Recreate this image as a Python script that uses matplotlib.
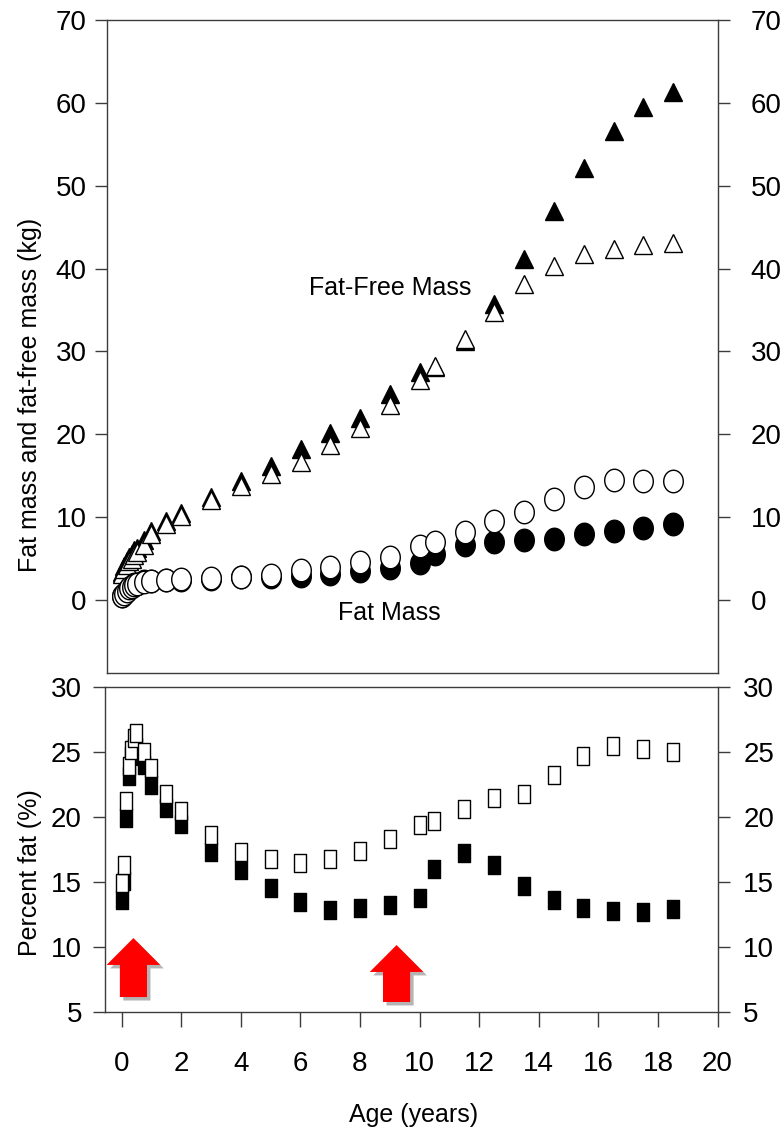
import numpy as np
import matplotlib
matplotlib.use("Agg")
import matplotlib.pyplot as plt
from matplotlib.path import Path
from matplotlib.patches import FancyArrow
import matplotlib.patheffects as pe

plt.rcParams['font.family'] = ['Liberation Sans', 'DejaVu Sans']

# ages (years): monthly to 6 mo, then 9, 12, 18, 24 mo, then yearly
age = [0, 1/12, 2/12, 3/12, 4/12, 5/12, 0.5, 0.75, 1, 1.5, 2,
       3, 4, 5, 6, 7, 8, 9, 10,
       10.5, 11.5, 12.5, 13.5, 14.5, 15.5, 16.5, 17.5, 18.5]

# fat-free mass (kg)
ffm_boys = [3.4, 4.1, 4.7, 5.2, 5.6, 6.0, 6.3, 7.2, 8.3, 9.5, 10.5,
            12.4, 14.4, 16.2, 18.2, 20.2, 22.0, 24.9, 27.5,
            28.1, 31.3, 35.7, 41.2, 46.95, 52.2, 56.6, 59.5, 61.35]
ffm_girls = [3.2, 3.7, 4.2, 4.7, 5.0, 5.4, 5.8, 6.6, 8.0, 9.2, 10.2,
             12.07, 13.8, 15.2, 16.7, 18.7, 20.8, 23.5, 26.55,
             28.3, 31.5, 34.8, 38.1, 40.3, 41.75, 42.4, 42.8, 43.1]

# fat mass (kg)
fm_boys = [0.5, 0.7, 1.1, 1.5, 1.75, 1.9, 2.0, 2.3, 2.3, 2.4, 2.45,
           2.6, 2.75, 2.8, 2.95, 3.1, 3.5, 3.82, 4.42,
           5.55, 6.64, 7.04, 7.24, 7.36, 7.97, 8.33, 8.65, 9.13]
fm_girls = [0.5, 0.7, 1.05, 1.4, 1.6, 1.8, 1.9, 2.15, 2.3, 2.45, 2.6,
            2.7, 2.82, 3.0, 3.62, 4.0, 4.63, 5.23, 6.52,
            7.04, 8.25, 9.53, 10.66, 12.15, 13.7, 14.5, 14.36, 14.36]

# percent body fat
pct_boys = [13.6, 15.1, 19.9, 23.15, 24.7, 25.3, 25.4, 24.0, 22.45, 20.7, 19.45,
            17.3, 15.9, 14.55, 13.45, 12.85, 13.0, 13.2, 13.75,
            16.0, 17.2, 16.3, 14.7, 13.6, 13.0, 12.8, 12.7, 12.9]
pct_girls = [14.9, 16.3, 21.2, 23.9, 25.15, 26.05, 26.5, 25.0, 23.75, 21.8, 20.5,
             18.6, 17.3, 16.75, 16.45, 16.8, 17.4, 18.3, 19.4,
             19.7, 20.6, 21.45, 21.8, 23.2, 24.7, 25.45, 25.2, 25.0]

# red arrows marking the two periods (x, base, tip)
arrow_x = [0.40, 9.23]
arrow_base = [6.15, 5.77]
arrow_tip = [10.69, 10.15]

W, H = 782, 1135
AXC = '#3c3c3c'


def box(l, t, r, b):
    return [l / W, 1 - b / H, (r - l) / W, (b - t) / H]


# tall oval and tall rectangle markers
th = np.linspace(0, 2 * np.pi, 64)
oval = Path(np.column_stack([0.87 * np.cos(th), np.sin(th)]), closed=True)
rect = Path([(-0.37, -0.5), (0.37, -0.5), (0.37, 0.5), (-0.37, 0.5), (-0.37, -0.5)], closed=True)

fig = plt.figure(figsize=(W / 100, H / 100), dpi=100)
ax1 = fig.add_axes(box(107, 20, 718, 673))
ax2 = fig.add_axes(box(105, 687, 717.5, 1012))


def style(ax, ylim, yticks, lpad, rpad):
    ax.set_ylim(*ylim)
    ax.set_yticks(yticks)
    for s in ax.spines.values():
        s.set_color(AXC)
        s.set_linewidth(1.0)
    ax.tick_params(axis='y', direction='out', length=8.6, width=1.0, color=AXC,
                   labelsize=20, pad=lpad, left=True, right=False)
    tw = ax.twinx()
    tw.set_ylim(*ylim)
    tw.set_yticks(yticks)
    for s in tw.spines.values():
        s.set_visible(False)
    tw.tick_params(axis='y', direction='out', length=8.6, width=1.0, color=AXC,
                   labelsize=20, pad=rpad, right=True, left=False, labelright=True)
    return tw


style(ax1, (-8.8, 70), range(0, 71, 10), 6, 15)
style(ax2, (5, 30), range(5, 31, 5), 8, 10)

ax1.set_xlim(-0.49, 20)
ax1.tick_params(axis='x', bottom=False, labelbottom=False)
ax2.set_xlim(-0.554, 20)
ax2.set_xticks(range(0, 21, 2))
ax2.tick_params(axis='x', direction='out', length=10.8, width=1.0, color=AXC,
                labelsize=20, pad=17)

mk = dict(linestyle='none', markeredgecolor='black', markeredgewidth=1.0)

# top panel: fat-free mass (triangles) and fat mass (ovals)
ax1.plot(age, ffm_boys, marker='^', markersize=13.3, markerfacecolor='black', **mk)
ax1.plot(age, ffm_girls, marker='^', markersize=13.3, markerfacecolor='white', **mk)
ax1.plot(age, fm_boys, marker=oval, markersize=16.2, markerfacecolor='black', **mk)
ax1.plot(age, fm_girls, marker=oval, markersize=16.2, markerfacecolor='white', **mk)

ax1.text(9.0, 37.65, 'Fat-Free Mass', fontsize=18, ha='center', va='center')
ax1.text(8.98, -1.57, 'Fat Mass', fontsize=18, ha='center', va='center')

# bottom panel: percent fat (rectangles)
ax2.plot(age, pct_boys, marker=rect, markersize=12.6, markerfacecolor='black', **mk)
ax2.plot(age, pct_girls, marker=rect, markersize=12.6, markerfacecolor='white', **mk)

for x, y0, y1 in zip(arrow_x, arrow_base, arrow_tip):
    arr = FancyArrow(x, y0, 0, y1 - y0, width=0.91, head_width=1.8, head_length=2.07,
                     length_includes_head=True, facecolor='#ff0000', edgecolor='none',
                     zorder=5)
    arr.set_path_effects([pe.SimplePatchShadow(offset=(2.5, -2.5), shadow_rgbFace='0.35', alpha=0.45),
                          pe.Normal()])
    ax2.add_patch(arr)

fig.text(30 / W, 1 - 395 / H, 'Fat mass and fat-free mass (kg)', rotation=90,
         fontsize=18, ha='center', va='center')
fig.text(30 / W, 1 - 873 / H, 'Percent fat (%)', rotation=90,
         fontsize=18, ha='center', va='center')
fig.text(414 / W, 1 - 1115 / H, 'Age (years)', fontsize=18, ha='center', va='center')

fig.savefig('out.png', dpi=100, facecolor='white')
